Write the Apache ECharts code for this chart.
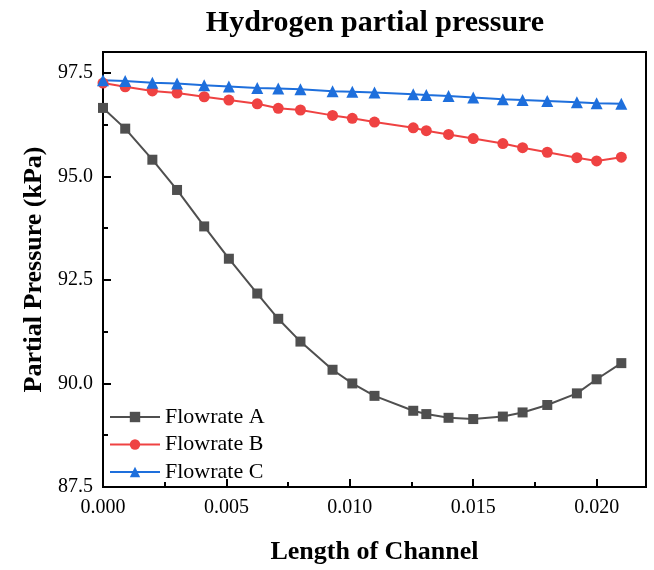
<!DOCTYPE html>
<html>
<head>
<meta charset="utf-8">
<script src="https://cdn.jsdelivr.net/npm/echarts@6/dist/echarts.min.js"></script>
<style>
  html, body { margin: 0; padding: 0; background: #fff; }
  #chart { width: 654px; height: 570px; }
</style>
</head>
<body>
<div id="chart"></div>
<script>
// Channel positions (m)
const channelLength = [0, 0.0009, 0.002, 0.003, 0.0041, 0.0051, 0.00625, 0.0071, 0.008, 0.0093, 0.0101,
  0.011, 0.01257, 0.0131, 0.014, 0.015, 0.0162, 0.017, 0.018, 0.0192, 0.02, 0.021];

// Hydrogen partial pressure (kPa) for each flowrate
const flowrateA = [96.65, 96.15, 95.40, 94.67, 93.79, 93.01, 92.17, 91.56, 91.01, 90.33, 90.00,
  89.70, 89.34, 89.26, 89.17, 89.14, 89.20, 89.30, 89.48, 89.76, 90.10, 90.49];
const flowrateB = [97.25, 97.16, 97.06, 97.01, 96.92, 96.84, 96.75, 96.64, 96.60, 96.47, 96.40,
  96.31, 96.17, 96.10, 96.01, 95.91, 95.79, 95.69, 95.58, 95.45, 95.37, 95.46];
const flowrateC = [97.32, 97.30, 97.26, 97.24, 97.20, 97.17, 97.13, 97.12, 97.10, 97.05, 97.04,
  97.02, 96.98, 96.96, 96.94, 96.90, 96.86, 96.84, 96.82, 96.79, 96.76, 96.75];

const seriesNames = ['Flowrate A', 'Flowrate B', 'Flowrate C'];
const seriesColors = ['#4f4f4f', '#ef4242', '#1e6fdc'];
const seriesSymbols = ['rect', 'circle', 'triangle'];
const seriesSizes = [10, 11, 12];
const seriesValues = [flowrateA, flowrateB, flowrateC];

const serif = "'Liberation Serif', 'Times New Roman', serif";

const chart = echarts.init(document.getElementById('chart'), null, { renderer: 'canvas' });

const series = seriesNames.map((name, i) => ({
  name: name,
  type: 'line',
  data: channelLength.map((x, k) => [x, seriesValues[i][k]]),
  symbol: seriesSymbols[i],
  symbolSize: seriesSizes[i],
  showAllSymbol: true,
  color: seriesColors[i],
  lineStyle: { width: 2, color: seriesColors[i] },
  itemStyle: { color: seriesColors[i] },
  emphasis: { disabled: true },
  animation: false
}));

const axisCommon = {
  axisLine: { show: true, lineStyle: { color: '#000', width: 2 } },
  axisTick: { show: true, inside: true, length: 8, lineStyle: { color: '#000', width: 2 } },
  minorTick: { show: true, splitNumber: 2, length: 5, lineStyle: { color: '#000', width: 2 } },
  splitLine: { show: false },
  minorSplitLine: { show: false },
  nameTextStyle: { fontFamily: serif, fontWeight: 'bold', fontSize: 26, color: '#000' }
};

chart.setOption({
  animation: false,
  backgroundColor: '#fff',
  title: {
    text: 'Hydrogen partial pressure',
    left: 370,
    top: 3,
    textAlign: 'center',
    textStyle: { fontFamily: serif, fontWeight: 'bold', fontSize: 30, color: '#000' }
  },
  grid: {
    left: 103, right: 8, top: 52, bottom: 77,
    show: true, borderColor: '#000', borderWidth: 2, backgroundColor: 'transparent'
  },
  legend: {
    orient: 'vertical',
    left: 104,
    top: 401,
    itemWidth: 50,
    itemHeight: 13,
    itemGap: 5.5,
    data: seriesNames,
    textStyle: { fontFamily: serif, fontSize: 22, color: '#000', lineHeight: 22 }
  },
  xAxis: Object.assign({}, axisCommon, {
    type: 'value',
    min: 0,
    max: 0.022,
    interval: 0.005,
    name: 'Length of Channel',
    nameLocation: 'middle',
    nameGap: 52,
    axisLabel: {
      showMaxLabel: false,
      margin: 11,
      fontFamily: serif, fontSize: 20, color: '#000',
      formatter: v => v.toFixed(3)
    }
  }),
  yAxis: Object.assign({}, axisCommon, {
    type: 'value',
    min: 87.5,
    max: 98,
    interval: 2.5,
    name: 'Partial Pressure (kPa)',
    nameLocation: 'middle',
    nameGap: 43,
    axisLabel: {
      showMaxLabel: false,
      margin: 10,
      fontFamily: serif, fontSize: 20, color: '#000',
      formatter: v => v.toFixed(1)
    }
  }),
  series: series
});
</script>
</body>
</html>
